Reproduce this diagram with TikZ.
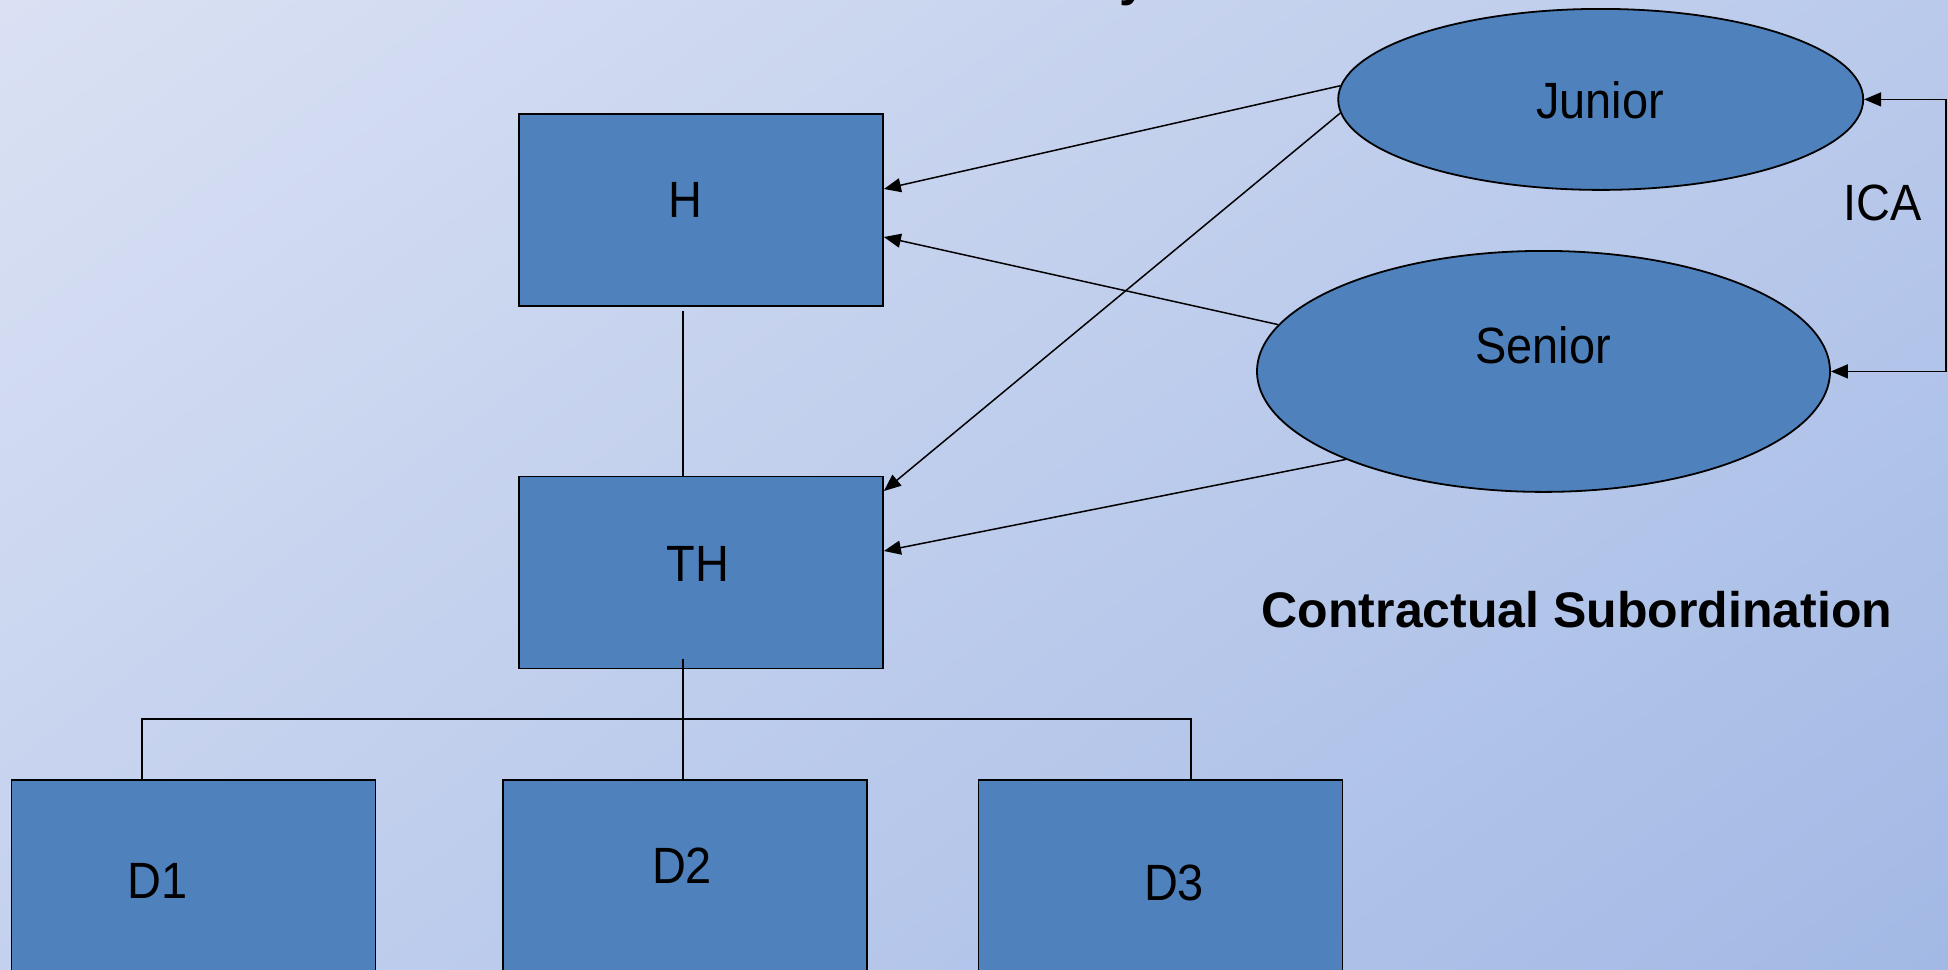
\documentclass[tikz,border=0pt]{standalone}
\usepackage{fontspec}
\setmainfont{Liberation Sans}
\newfontfamily\lblfont{Liberation Sans}[FakeStretch=0.92]
\usetikzlibrary{shapes.geometric,arrows.meta,shadings}
\definecolor{boxblue}{HTML}{4F81BD}
\definecolor{bgA}{HTML}{DAE1F3}
\definecolor{bgB}{HTML}{BACAEB}
\definecolor{bgC}{HTML}{C4D1EE}
\definecolor{bgD}{HTML}{A2B9E5}
\begin{document}
\begin{tikzpicture}[x=1pt,y=-1pt,
  box/.style={draw=black,line width=1.8pt,fill=boxblue,rectangle,minimum width=364pt,minimum height=192pt,inner sep=0pt},
  oval/.style={draw=black,line width=1.8pt,fill=boxblue,ellipse,inner sep=0pt},
  lbl/.style={anchor=base,inner sep=0pt,font=\lblfont\fontsize{51}{60}\selectfont},
  boldlbl/.style={anchor=base,inner sep=0pt,font=\fontsize{50}{60}\selectfont\bfseries},
  conn/.style={line width=1.5pt},
  arr/.style={conn,-{Triangle[length=17pt,width=14pt]}},
  dblarr/.style={conn,{Triangle[length=17pt,width=14pt]}-{Triangle[length=17pt,width=14pt]}}]
\useasboundingbox (0,0) rectangle (1948,969);
\clip (0,0) rectangle (1948,969);
\shade[upper left=bgA, upper right=bgB, lower left=bgC, lower right=bgD] (0,0) rectangle (1948,969);
% fragment of a title above the picture
\node[boldlbl,anchor=base west] (titlefrag) at (1119,-4.5) {y};
% boxes
\node[box] (H) at (701,210) {};
\node[box] (TH) at (701,572.5) {};
\node[box] (D1) at (193.5,876) {};
\node[box] (D2) at (685,876) {};
\node[box] (D3) at (1160.5,876) {};
% ellipses
\node[oval,minimum width=525pt,minimum height=181pt] (Junior) at (1600.7,99.4) {};
\node[oval,minimum width=573pt,minimum height=241pt] (Senior) at (1543.5,371.4) {};
% labels
\node[lbl] (Htxt) at (685.5,217.3) {H};
\node[lbl] (THtxt) at (698,581.5) {TH};
\node[lbl] (D1txt) at (157.5,898) {D1};
\node[lbl] (D2txt) at (682,883.5) {D2};
\node[lbl] (D3txt) at (1174,900) {D3};
\node[lbl] (Jtxt) at (1600,118.3) {Junior};
\node[lbl] (Stxt) at (1543,363) {Senior};
\node[lbl] (ICA) at (1883,220) {ICA};
\node[boldlbl] (CS) at (1577,627) {Contractual Subordination};
% tree connectors
\draw[conn] ([xshift=-18pt,yshift=-4pt]H.south) -- ([xshift=-18pt]TH.north);
\coordinate (bus) at (683,719);
\draw[conn] ([xshift=-18pt,yshift=10pt]TH.south) -- (bus);
\draw[conn] ([xshift=-51.5pt]D1.north) |- (bus) -| ([xshift=30.5pt]D3.north);
\draw[conn] (bus) -- ([xshift=-2pt]D2.north);
% arrows
\draw[arr] (Junior.177) -- ([yshift=21pt]H.east);
\draw[arr] (Junior.183.5) -- ([yshift=81.5pt]TH.east);
\draw[arr] (Senior.170.4) -- ([yshift=-27pt]H.east);
\draw[arr] (Senior.204) -- ([yshift=21.5pt]TH.east);
\draw[dblarr] (Junior.east) -- ++(82,0) |- (Senior.east);
\end{tikzpicture}
\end{document}
